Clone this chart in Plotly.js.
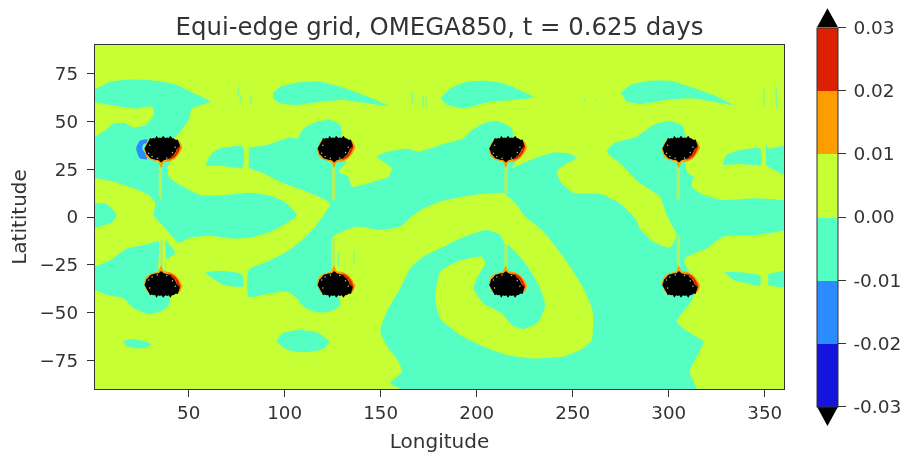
<!DOCTYPE html>
<html><head><meta charset="utf-8">
<script src="https://cdn.plot.ly/plotly-3.0.1.min.js"></script>
<style>html,body{margin:0;padding:0;background:#fff}#c{width:906px;height:453px;filter:blur(0.5px)}</style>
</head><body><div id="c"></div>
<script>
// Colour bands of the field
const bandEdges = [-0.03,-0.02,-0.01,0,0.01,0.02,0.03];
const bandColors = ['#1414dc','#2a8cff','#55ffc3','#c6ff33','#ff9c00','#dc2100'];
const cbLabels = ['-0.03','-0.02','-0.01','0.00','0.01','0.02','0.03'];
const xTicks = [50,100,150,200,250,300,350];
const yTicks = [-75,-50,-25,0,25,50,75];

// Regions where OMEGA850 lies in the -0.01..0 band
const westLon=[-3,9.3,21.4,33.6,44,52.7,61.3,51.8,50,45.7,42.2,46.6,41.4,38.8,39.6,45.7,56.1,68.3,82.1,94.3,101.2,106.4,101.2,92.5,82.1,71.7,61.3,50.9,44.9,37.9,31.8,32.7,29.2,21.4,11,-3,-3,6.7,11,16.2,21.4,27.5,31.8,31,21.4,9.3,-3];
const westLat=[64.4,70.8,72,71.3,69.1,64.7,60.3,56.8,50.7,44.6,40.3,36.8,29.8,25.5,21.1,16.7,11.5,11.5,12.7,10.6,7.1,1,-3.3,-7.7,-10.8,-11.2,-9.8,-10.8,-13.3,-6,1,7.1,11.5,15,18.5,22,38.3,45.5,49,49.3,46.9,48.1,53.4,57.7,56.8,58.6,61.1];
const bodyLon=[81.3,90.8,102.9,106.4,109.9,116.8,123.7,129,129.8,132.4,131.6,128.1,133.3,135,146.3,154.1,155.8,151.5,148,152.4,163.6,169.7,181,193.1,196.6,203.5,210.5,218.3,219.1,222.6,220,218.3,227.8,240,247.8,252.1,246.9,241.7,244.3,250.4,264.2,274.6,282.4,285,292,300.6,304.1,300.6,298.9,295.4,285,274.6,267.7,271.2,283.3,292,300.6,307.6,308.4,311.9,308.4,310.2,312.8,311.9,318,328.4,345.7,364,364,345.7,328.4,319.7,308.4,308.4,315.4,311,304.1,312.8,318,311,315,170,155,161,159.3,154.1,149.8,153.2,160.2,165.4,172.3,181,191.3,205.3,212.2,214.9,216.5,226,233,235.6,232.2,224.4,218.3,213.1,203.5,198.3,200,204.4,202.7,189.7,181,178.4,181,191.4,203.5,215.7,229.5,245.2,255.6,259.9,260.4,255.6,246.9,234.8,224.4,221.7,213.9,198.3,181,172.3,167.1,160.2,149.8,137.6,126.4,124.6,124.6,126.4,129,123.7,116.8,109.9,106.4,101.2,92.5,81.3,81.3,90.8,101.2,109.9,115.1,120.3,123.7,111.6,99.5,89.1,81.3];
const bodyLat=[36.4,37.7,41.7,41,46.4,49.9,50.7,48.1,42,35,28.1,23.7,21.1,15.9,18.5,21.1,25.5,28.9,31.6,33.8,35.9,34.2,37.7,41.2,44.6,49,50.2,46.4,42,35,28.1,25.5,29.8,33.7,33.3,30.7,28.1,23.7,17.6,12.7,12,7.1,-0.7,-6,-12.9,-15.9,-9.4,-2.4,1,10.6,17.6,28.1,34.2,38.5,42,48.1,50.2,47.3,42.9,35,27.2,22.8,21.1,15.9,11.5,8.9,9.8,7.5,-5.5,-9.4,-10.3,-16.4,-21.6,-25,-35.6,-45.2,-54.8,-61.7,-65.2,-81,-93,-93,-87,-81,-75.7,-68.7,-60,-49.5,-37.3,-26.9,-20.7,-16.4,-11.2,-6.8,-9.4,-14.6,-14.6,-25.1,-37.3,-46,-54.8,-58.6,-56.5,-50.4,-45.2,-37.3,-32.1,-24.2,-20.8,-23.4,-28.6,-42.6,-53,-61.7,-67.8,-72.2,-74,-73,-68.7,-64.4,-49.5,-37.3,-23.4,-7.7,1,5.4,12.4,11.5,8,4.5,1,-5,-6.8,-5,-9.4,-11.2,-26.9,-35.6,-46,-49.5,-49.9,-46.9,-42.6,-39,-39.9,-41.7,-27.7,-23.4,-18.1,-11.2,-6,1,7.1,13.2,17.6,22.8,25.5];
const band2Lon=[93.9,97.7,106.4,118.5,129,141.1,154.1,142.8,130.7,118.5,106.4,97.7,93.9];
const band2Lat=[64.7,68.2,70.3,70.8,68.2,63.8,58.1,59.5,61.2,60.3,58.6,59.5,62.1];
const band3Lon=[181,186.2,194.9,205.3,213.9,222.6,229.6,219.1,207,193.1,184.5];
const band3Lat=[62.1,67.3,70.8,71.3,69.9,66.4,62.6,61.2,60.3,56.8,58.6];
const band4Lon=[275,279.8,290.2,300.6,311,323.2,333.6,323.2,311,298.9,285,278.1];
const band4Lat=[64.7,69,71.3,71.3,68.2,63.8,58.6,60.3,62.1,61.2,59.1,60.3];
const patchNLon=[58.7,61.3,65.7,71.7,78.3,78.3,68.3];
const patchNLat=[26.7,32.4,35.9,36.8,36.8,26,26.7];
const patchSLon=[58.7,68.3,77.8,78.3,68.3,62.2];
const patchSLat=[-28.9,-28.2,-30,-36.4,-35.6,-32.1];
const eastNLon=[328,330.1,337.1,347.5,348.3,337.1];
const eastNLat=[27.2,32.4,35,35.9,27.7,27.7];
const rimNLon=[350.6,351.8,364,364,351.8,350.6];
const rimNLat=[38.5,35.9,37.6,21,26.3,28];
const eastSLon=[328.7,333.6,347.5,347.5,340.5,333.6];
const eastSLat=[-29,-28.6,-30.7,-35.9,-34.7,-33];
const rimSLon=[351.8,364,364,351.8];
const rimSLat=[-30,-28,-36.5,-35.9];
const swLobeLon=[-3,9.3,18,26.6,34.4,34.4,37.9,37.9,43.1,37.9,37.9,40.5,39.7,35.3,29.2,21.4,16.2,7.6,-3];
const swLobeLat=[-27.5,-22.5,-16.4,-14.6,-12.9,-27.7,-27.7,-12,-19,-22.5,-27.7,-35.6,-46,-49.5,-50.9,-47.8,-42.6,-40.8,-36];
const eqPatchLon=[-3,6.7,11,12.4,10.2,5,-3];
const eqPatchLat=[7.1,7.1,3.6,1,-2.8,-4.7,-6];
const isle1Lon=[15.7,19.7,26.6,30.6,27.5,21.4,17.1];
const isle1Lat=[-65.2,-63.8,-64.9,-66.6,-68.4,-68.7,-67.3];
const isle2Lon=[95.5,98.6,107.3,116.8,123.2,120.3,109.9,101.2];
const isle2Lat=[-65.2,-60.9,-59.1,-60.3,-65.2,-69.1,-70.8,-69.6];

// Narrow streaks, lon + [lat start, lat end]
const spikeLon=[35.3,125.5,215.3,305,125.5,215.3,305,35.9];
const spikeFrom=[28,26.3,27,26,-11,-14.6,-9.4,-12];
const spikeTo=[9,8.9,12.4,8.9,-27,-27.7,-26.9,-27];
const streakLon=[76,77,82.5,166.5,172,173.5,356,349.5,256,262,128,38.5,136];
const streakFrom=[68,64,63.5,65.5,63.5,63,68,67,62,62,-18,28,-18];
const streakTo=[63,60,59,59,57,57,57,58,60.5,61,-26,22,-25];

// Blue patch west of the first storm
const blueLon=[28.4,24.6,22.7,24.6,28.4,27.5,25.8,26.6,28.7];
const blueLat=[40.8,39.9,35.9,30.7,30.2,33.3,35.9,38.2,38.9];

// Storm centres and shape (offsets in degrees; southern ones are mirrored)
const siteLon=[36.2,126.3,215.7,305.8];
const siteLat=[35.9,-35.6];
const coreDx=[-9.2,-8.2,-7.2,-6.3,-5.4,-4.7,-3.6,-3,-2,-1.2,-0.3,0.5,1.6,2.6,3.4,4.3,5.2,6.1,7.2,8.2,8.6,9.2,7.6,7.2,6.1,5,4.3,2.8,1.7,0.8,-0.5,-1.8,-3.5,-5,-6.1,-7.4,-8.2,-8.6];
const coreDy=[0,1.6,3.5,5.4,5,5.4,5.2,6.6,5.4,5.7,5.4,6.6,5.4,5.7,5.4,6.6,5.4,5.2,4.4,4.7,3,1.2,-0.4,-1.6,-3.4,-4.2,-5.2,-5.6,-6,-6.2,-7.4,-6.2,-6,-5.4,-5.2,-3.6,-3,-1.4];
const haloDx=[-9.4,-8.4,-6,-2,-0.6,0.8,4,6.8,9,10.6,9.6,8,5,-6,-8.2];
const haloDy=[-1,-4.2,-6,-7,-10.4,-7.2,-6.8,-5.4,-2.8,0.4,3.2,4.4,5,5,3];
const redDx=[3,5,7,8.4,9.6,8.8,8,6.8];
const redDy=[-6.2,-5.6,-4.2,-2.2,0.6,2.8,0,-3];
const speckDx=[-7,-5.2,-2.5,2.4,5.4,-6.4,6.8];
const speckDy=[-2.6,-4.2,-5.2,-5,-2.2,1.6,0.6];

const zMid = 0.005;
const cs=[];bandColors.forEach((c,i)=>{cs.push([i/6,c]);cs.push([(i+1)/6,c]);});
const F='DejaVu Sans',txt='#333';
const traces=[{type:'heatmap',x:[1.25,360],y:[-90,90],z:[[zMid,zMid],[zMid,zMid]],zmin:-0.03,zmax:0.03,colorscale:cs,hoverinfo:'skip',
  colorbar:{x:1.0479,xanchor:'left',xref:'paper',y:0.5,yanchor:'middle',yref:'paper',lenmode:'pixels',len:379.4,thicknessmode:'pixels',thickness:21,xpad:0,ypad:0,
  outlinewidth:1,outlinecolor:'#333',tickmode:'array',tickvals:bandEdges,ticktext:cbLabels.map(t=>'\u2009'+t),ticks:'outside',ticklen:8,tickwidth:1,tickcolor:'#333',tickfont:{family:F,size:18.5,color:txt}}}];
function poly(x,y,c,smooth){traces.push({type:'scatter',mode:'lines',x:x,y:y,fill:'toself',fillcolor:c,line:smooth?{width:0,color:c,shape:'spline',smoothing:0.55}:{width:0,color:c},hoverinfo:'skip',showlegend:false});}
const teal=bandColors[2];
[[westLon,westLat],[bodyLon,bodyLat],[band2Lon,band2Lat],[band3Lon,band3Lat],[band4Lon,band4Lat],[patchNLon,patchNLat],[patchSLon,patchSLat],[eastNLon,eastNLat],[rimNLon,rimNLat],[eastSLon,eastSLat],[rimSLon,rimSLat],[swLobeLon,swLobeLat],[eqPatchLon,eqPatchLat],[isle1Lon,isle1Lat],[isle2Lon,isle2Lat]].forEach(p=>poly(p[0],p[1],teal,true));
function streaks(lon,a,b,c,w,op){const x=[],y=[];lon.forEach((l,i)=>{x.push(l,l,null);y.push(a[i],b[i],null);});
  traces.push({type:'scatter',mode:'lines',x:x,y:y,line:{color:c,width:w},opacity:op,hoverinfo:'skip',showlegend:false});}
streaks(spikeLon,spikeFrom,spikeTo,'#b5f25a',3.2,1);
streaks(streakLon,streakFrom,streakTo,teal,1.5,0.65);
poly(blueLon,blueLat,bandColors[1],true);
siteLat.forEach(la=>{const s=la>0?1:-1;siteLon.forEach(lo=>{
  poly(haloDx.map(d=>lo+d),haloDy.map(d=>la+s*d),bandColors[4],false);
  poly(redDx.map(d=>lo+d),redDy.map(d=>la+s*d),bandColors[5],false);
  poly(coreDx.map(d=>lo+d),coreDy.map(d=>la+s*d),'#000',false);
  traces.push({type:'scatter',mode:'markers',x:speckDx.map(d=>lo+d),y:speckDy.map(d=>la+s*d),marker:{size:1.5,color:'#c8c8a0'},hoverinfo:'skip',showlegend:false});
});});

const ax={ticks:'outside',ticklen:7,tickwidth:1,tickcolor:'#333',showline:true,linecolor:'#333',linewidth:1.3,mirror:true,showgrid:false,zeroline:false,tickfont:{family:F,size:18.3,color:txt}};
const tri=(p)=>({type:'path',xref:'paper',yref:'paper',path:p,fillcolor:'#000',line:{width:0},layer:'above'});
const layout={width:906,height:453,margin:{l:95,r:122,t:45,b:64,pad:0,autoexpand:false},paper_bgcolor:'#fff',plot_bgcolor:bandColors[3],showlegend:false,
  title:{text:'Equi-edge grid, OMEGA850, t = 0.625 days',font:{family:F,size:24.4,color:txt},x:0.4851,xanchor:'center',y:0.9426,yanchor:'middle'},
  xaxis:Object.assign({},ax,{range:[1.25,360],tickmode:'array',tickvals:xTicks,title:{text:'Longitude',font:{family:F,size:20,color:txt},standoff:11}}),
  yaxis:Object.assign({},ax,{range:[-90,90],tickmode:'array',tickvals:yTicks,ticklabelstandoff:5,title:{text:'Latititude',font:{family:F,size:20,color:txt},standoff:7.5}}),
  shapes:[tri('M 1.0479 1.0515 L 1.0784 1.0515 L 1.0631 1.1067 Z'),tri('M 1.0479 -0.0515 L 1.0784 -0.0515 L 1.0631 -0.1076 Z')]};
Plotly.newPlot('c',traces,layout,{displayModeBar:false,staticPlot:true});
</script></body></html>
